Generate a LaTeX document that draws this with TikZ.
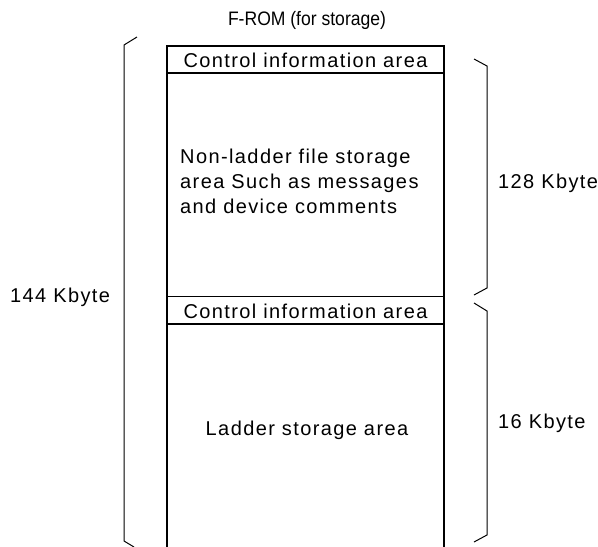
\documentclass[tikz,border=0pt]{standalone}
\usepackage{fontspec}
\setmainfont{Liberation Sans}
\newfontfamily\spaced[LetterSpace=7]{Liberation Sans}
\begin{document}
\begin{tikzpicture}[x=1pt,y=-1pt]
\tikzset{
  boxline/.style={line width=1.5pt,black},
  divline/.style={line width=1.3pt,black},
  braceline/.style={line width=1pt,black},
  lbl/.style={font=\spaced\fontsize{20}{25}\selectfont,inner sep=0pt,text=black},
  title/.style={font=\fontsize{19.5}{22}\selectfont,inner sep=0pt,xscale=0.9,transform shape}
}
\useasboundingbox (0,0) rectangle (598,547);
% box
\draw[boxline] (167,549) -- (167,46) -- (444,46) -- (444,549);
\draw[divline] (167,73) -- (444,73);
\draw[divline] (167,296.5) -- (444,296.5);
\draw[divline] (167,324) -- (444,324);
% braces
\draw[braceline] (137,37) -- (124,45) -- (124,541) -- (134,547);
\draw[braceline] (474,59) -- (487,66) -- (487,288) -- (474,295);
\draw[braceline] (474,303) -- (487,311) -- (487,535) -- (474,542);
% texts
\node[title] (t) at (307,20) {F-ROM (for storage)};
\node[lbl] (c1) at (305.5,60) {Control information area};
\node[lbl] (c2) at (305.5,311) {Control information area};
\node[lbl,anchor=west,align=left] (n) at (180,181) {Non-ladder file storage\\area Such as messages\\and device comments};
\node[lbl] (l) at (307,430) {Ladder storage area};
\node[lbl,anchor=west] (k128) at (498,183) {128 Kbyte};
\node[lbl,anchor=west] (k16) at (498,423) {16 Kbyte};
\node[lbl,anchor=west] (k144) at (10,297) {144 Kbyte};
\end{tikzpicture}
\end{document}
